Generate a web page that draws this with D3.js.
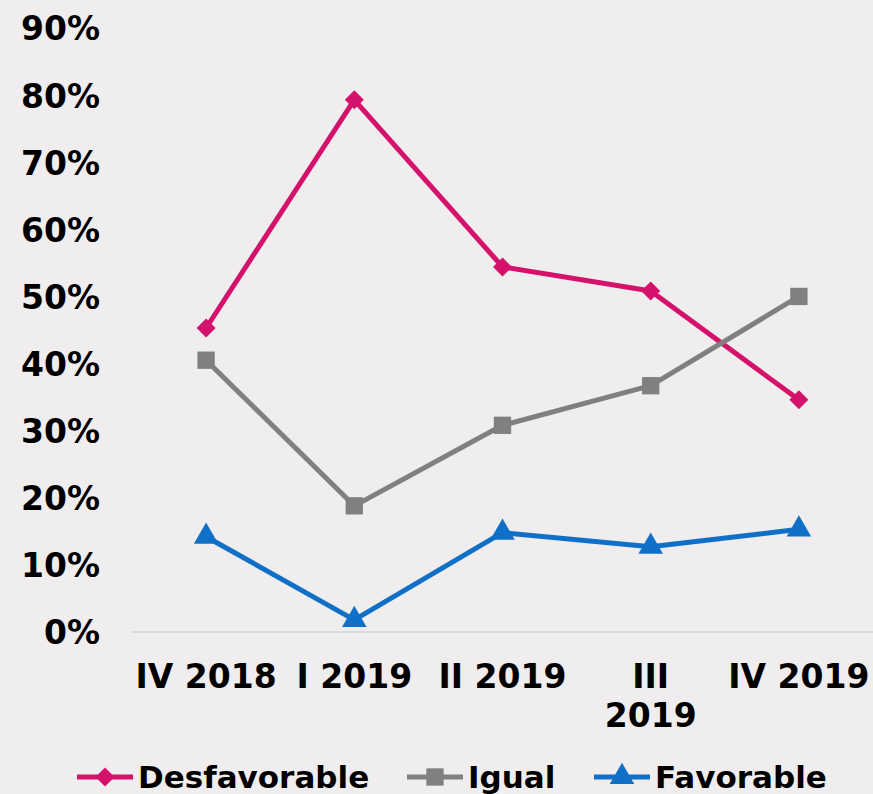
<!DOCTYPE html>
<html>
<head>
<meta charset="utf-8">
<script src="https://cdnjs.cloudflare.com/ajax/libs/d3/7.8.5/d3.min.js"></script>
<style>
  html, body { margin: 0; padding: 0; background: #efedee; }
  #chart { width: 873px; height: 794px; }
</style>
</head>
<body>
<div id="chart"></div>
<script>
var categories = [["IV 2018"], ["I 2019"], ["II 2019"], ["III", "2019"], ["IV 2019"]];
var seriesNames = ["Desfavorable", "Igual", "Favorable"];
var desfavorable = [0.453, 0.793, 0.544, 0.508, 0.346];
var igual = [0.405, 0.188, 0.308, 0.367, 0.500];
var favorable = [0.142, 0.018, 0.148, 0.127, 0.153];
var yTicks = [0, 0.1, 0.2, 0.3, 0.4, 0.5, 0.6, 0.7, 0.8, 0.9];

var colors = ["#d4116b", "#808080", "#1070c8"];
var symbols = [d3.symbolDiamond2, d3.symbolSquare, d3.symbolTriangle];
var symbolSizes = [230, 300, 260];

var width = 873, height = 794;
var margin = {top: 28, right: 0, bottom: 162, left: 132};
var font = "'DejaVu Sans', Verdana, sans-serif";

var svg = d3.select("#chart").append("svg")
    .attr("width", width)
    .attr("height", height)
    .style("background", "#efedee");

var keys = categories.map(function(d) { return d.join(" "); });

var x = d3.scaleBand()
    .domain(keys)
    .range([margin.left, width - margin.right]);

var y = d3.scaleLinear()
    .domain([0, 0.9])
    .range([height - margin.bottom, margin.top]);

// baseline
svg.append("line")
    .attr("x1", margin.left).attr("x2", width - margin.right)
    .attr("y1", y(0)).attr("y2", y(0))
    .attr("stroke", "#d9d9d9").attr("stroke-width", 2);

// y axis labels
var yAxis = svg.append("g")
    .attr("transform", "translate(" + 100 + ",0)")
    .call(d3.axisLeft(y).tickValues(yTicks).tickFormat(d3.format(".0%")).tickSize(0));
yAxis.select(".domain").remove();
yAxis.selectAll("text")
    .attr("x", 0)
    .attr("dy", "0.36em")
    .style("font-family", font)
    .style("font-weight", "bold")
    .style("font-size", "33px")
    .attr("fill", "#000");

// x axis labels, one text per line
var xLab = svg.append("g");
categories.forEach(function(lines, i) {
  lines.forEach(function(l, j) {
    xLab.append("text")
      .attr("text-anchor", "middle")
      .attr("x", x(keys[i]) + x.bandwidth() / 2)
      .attr("y", y(0) + 56 + j * 39)
      .style("font-family", font)
      .style("font-weight", "bold")
      .style("font-size", "33px")
      .attr("fill", "#000")
      .text(l);
  });
});

var data = [desfavorable, igual, favorable];

var line = d3.line()
    .x(function(d, i) { return x(keys[i]) + x.bandwidth() / 2; })
    .y(function(d) { return y(d); });

data.forEach(function(vals, s) {
  var g = svg.append("g");
  g.append("path")
    .datum(vals)
    .attr("d", line)
    .attr("fill", "none")
    .attr("stroke", colors[s])
    .attr("stroke-width", 5)
    .attr("stroke-linejoin", "round");
  g.selectAll("path.marker")
    .data(vals)
    .enter().append("path")
    .attr("class", "marker")
    .attr("d", d3.symbol().type(symbols[s]).size(symbolSizes[s]))
    .attr("transform", function(d, i) {
      return "translate(" + (x(keys[i]) + x.bandwidth() / 2) + "," + y(d) + ")";
    })
    .attr("fill", colors[s]);
});

// legend
var legendX = [77, 407, 594];
var legend = svg.append("g");
seriesNames.forEach(function(name, s) {
  var lg = legend.append("g").attr("transform", "translate(" + legendX[s] + ",777)");
  lg.append("line")
    .attr("x1", 0).attr("x2", 56)
    .attr("stroke", colors[s]).attr("stroke-width", 5);
  lg.append("path")
    .attr("d", d3.symbol().type(symbols[s]).size(symbolSizes[s]))
    .attr("transform", "translate(28,0)")
    .attr("fill", colors[s]);
  lg.append("text")
    .attr("x", 61)
    .attr("dy", "0.36em")
    .style("font-family", font)
    .style("font-weight", "bold")
    .style("font-size", "31px")
    .attr("fill", "#000")
    .text(name);
});
</script>
</body>
</html>
